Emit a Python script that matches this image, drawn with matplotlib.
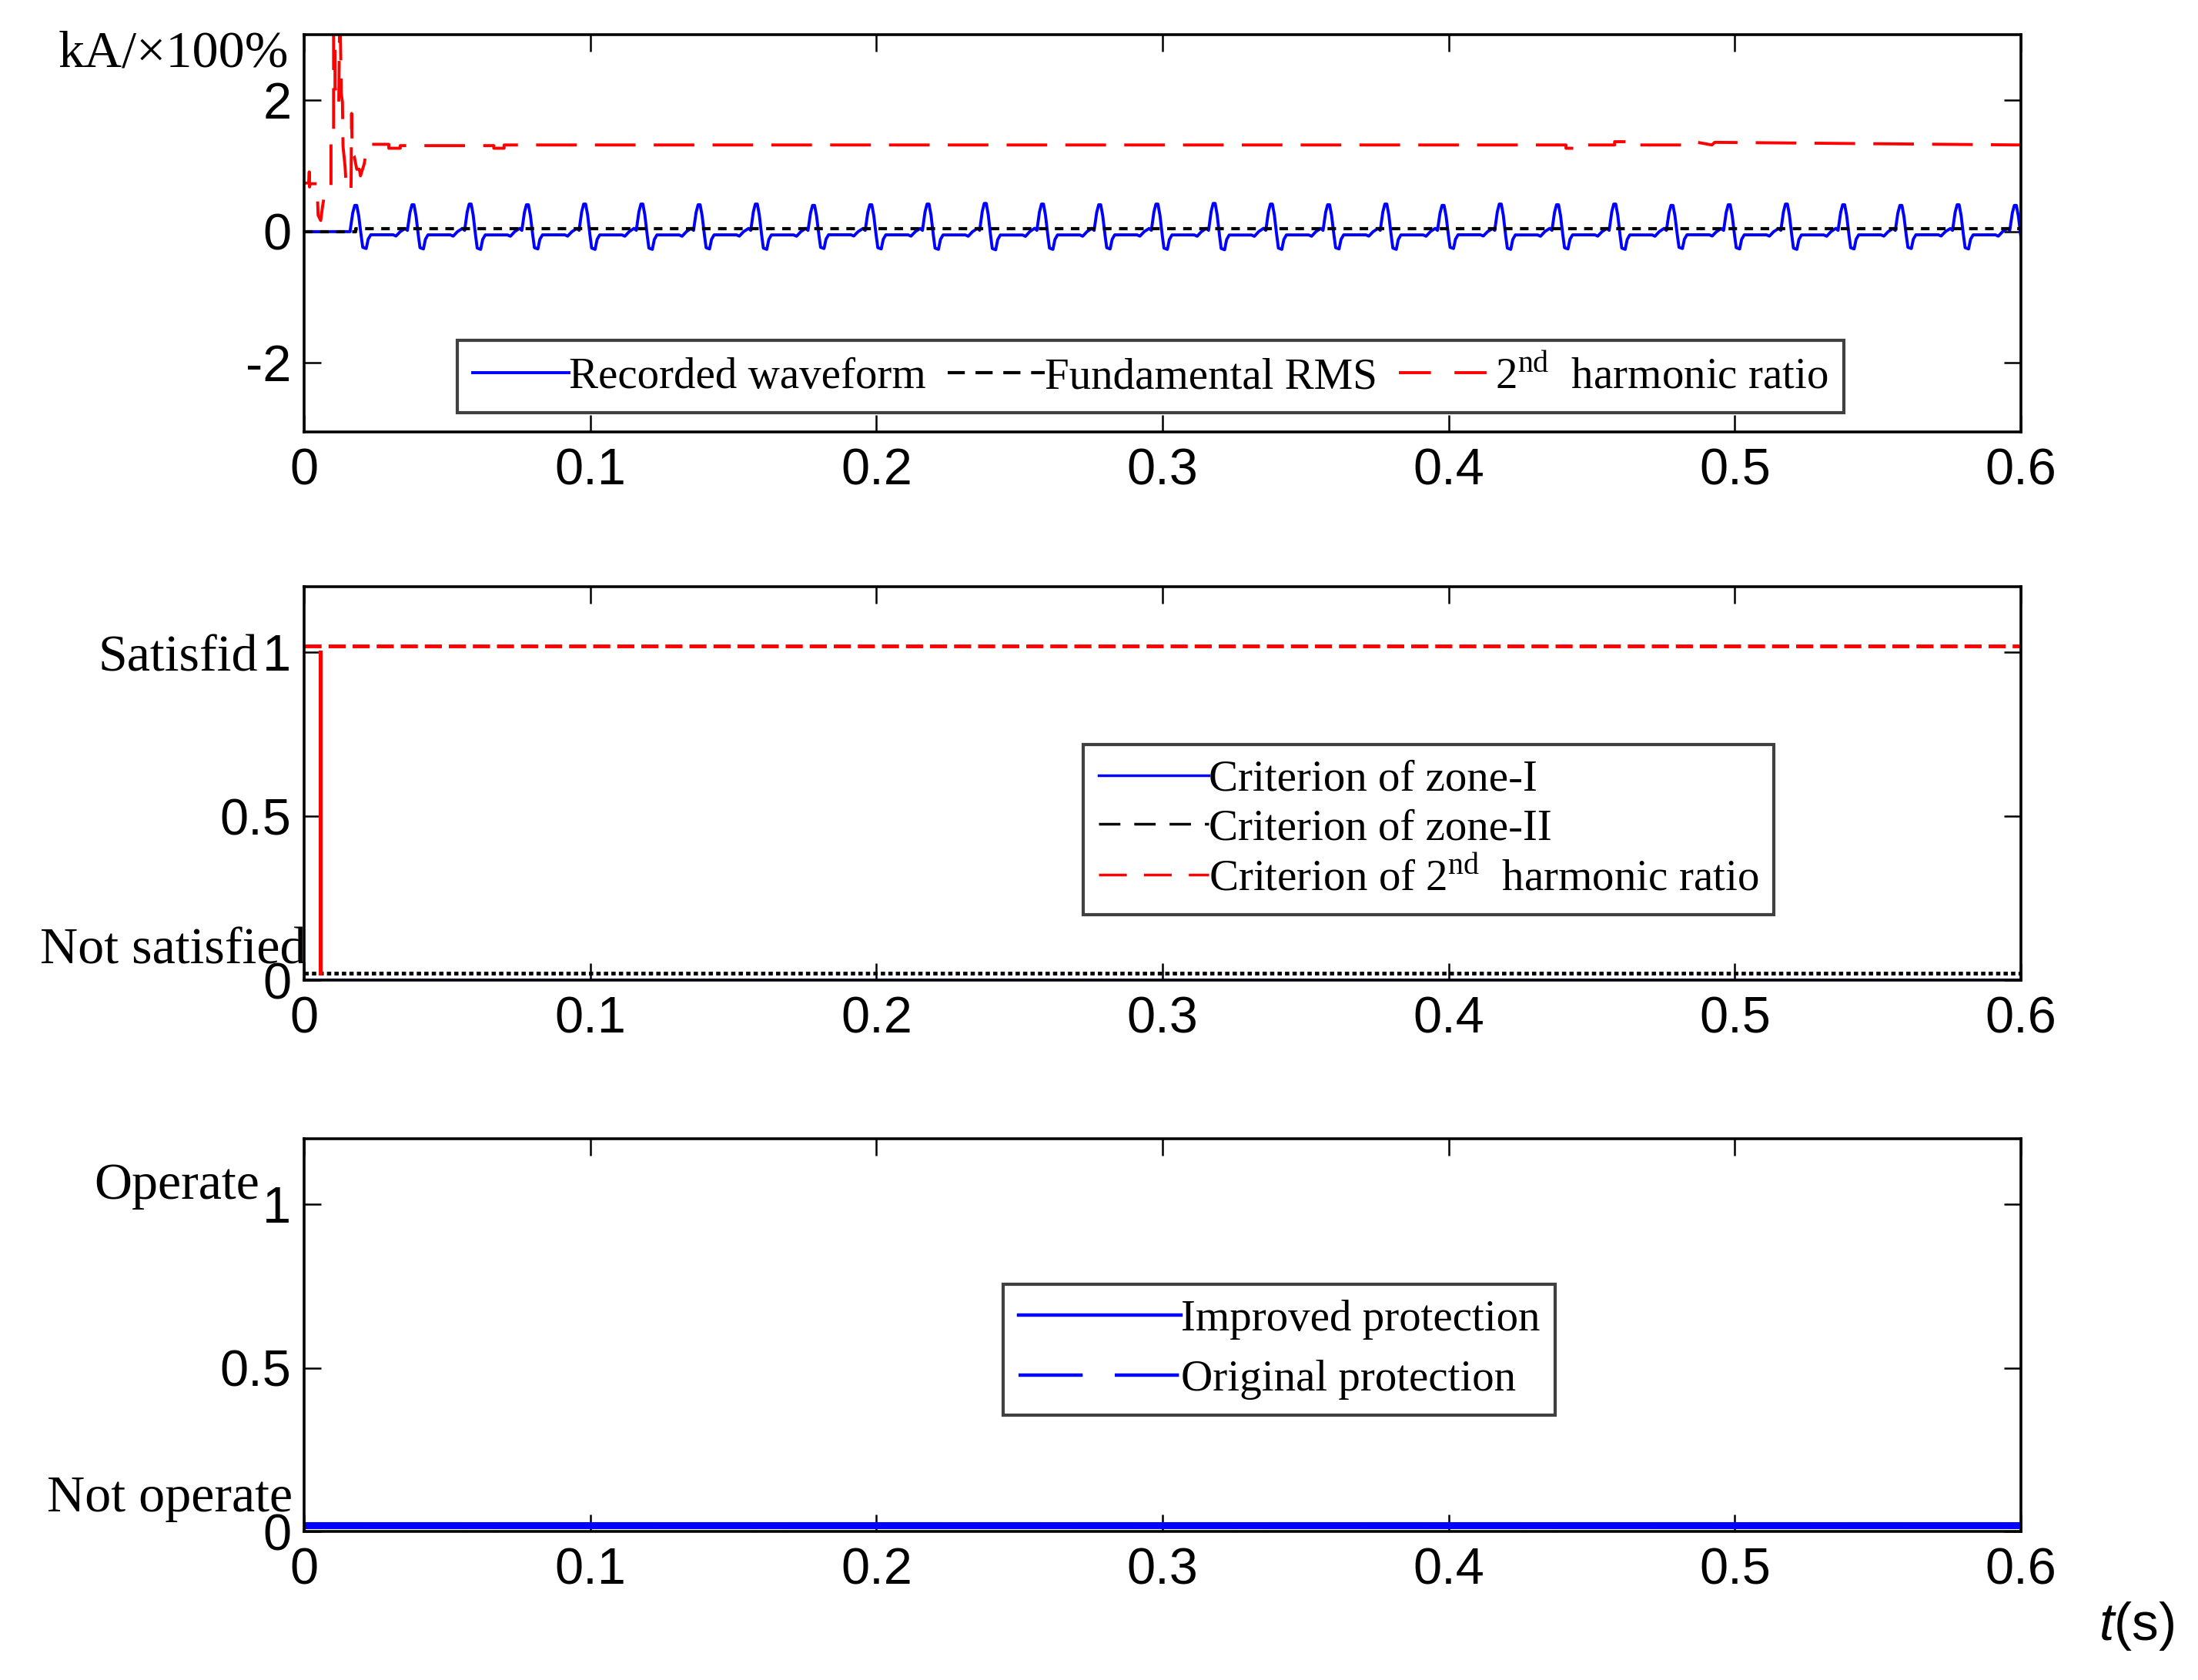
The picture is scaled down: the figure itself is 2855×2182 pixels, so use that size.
import matplotlib
matplotlib.use('Agg')
import matplotlib.pyplot as plt

plt.rcParams['font.family'] = ['Liberation Sans', 'DejaVu Sans']
plt.rcParams['axes.unicode_minus'] = False
plt.rcParams['lines.scale_dashes'] = False
plt.rcParams['mathtext.fontset'] = 'custom'
plt.rcParams['mathtext.rm'] = 'Liberation Serif'
plt.rcParams['mathtext.it'] = 'Liberation Sans:italic'

# x axis
xticks = [0, 0.1, 0.2, 0.3, 0.4, 0.5, 0.6]
xtick_labels = ['0', '0.1', '0.2', '0.3', '0.4', '0.5', '0.6']

# recorded waveform, one cycle (ms after the rise, kA)
cycle_ms = [0.0, 0.9, 1.6, 2.3, 3.0, 3.8, 4.4, 5.6, 6.3, 7.2, 15.0, 16.0, 17.5, 19.2]
cycle_kA = [0.02, 0.30, 0.42, 0.42, 0.25, -0.05, -0.25, -0.27, -0.12, -0.05, -0.05, -0.07, 0.0, 0.05]
first_rise = 0.0161
period = 0.02
cycle_peaks = [0.40, 0.41, 0.42, 0.41, 0.42, 0.42, 0.41, 0.42, 0.40, 0.41,
               0.42, 0.43, 0.42, 0.41, 0.42, 0.43, 0.42, 0.41, 0.42, 0.40,
               0.42, 0.41, 0.42, 0.40, 0.41, 0.42, 0.41, 0.40, 0.41, 0.40]

# fundamental RMS
rms_t = [0, 0.018, 0.018, 0.6]
rms_v = [0, 0, 0.05, 0.05]

# 2nd harmonic ratio (x100%)
h2_t = [0, 0.0016, 0.0018, 0.0019, 0.0021, 0.0045, 0.0049, 0.0058, 0.0065, 0.0072,
        0.0085, 0.0094, 0.0094, 0.0103, 0.0103, 0.0108, 0.0108, 0.0121, 0.0125, 0.0130,
        0.0134, 0.0136, 0.0143, 0.0148, 0.0164, 0.0166, 0.0168, 0.0175, 0.0184, 0.0193,
        0.0197, 0.0210, 0.0220, 0.0228, 0.0296, 0.0296, 0.0336, 0.0336, 0.0663, 0.0663,
        0.0699, 0.0699, 0.441, 0.441, 0.447, 0.447, 0.458, 0.458, 0.465, 0.465,
        0.486, 0.487, 0.492, 0.493, 0.6]
h2_v = [0.74, 0.74, 0.91, 0.68, 0.73, 0.73, 0.25, 0.17, 0.40, 0.58,
        0.70, 0.70, 1.48, 1.48, 3.5, 3.5, 2.2, 1.93, 3.5, 2.1,
        1.97, 1.30, 1.00, 0.64, 0.64, 1.80, 1.19, 1.15, 0.95, 0.95,
        0.85, 1.03, 1.29, 1.33, 1.33, 1.27, 1.27, 1.31, 1.31, 1.27,
        1.27, 1.32, 1.32, 1.27, 1.27, 1.32, 1.32, 1.37, 1.37, 1.32,
        1.32, 1.36, 1.32, 1.36, 1.32]

# criteria (0 = not satisfied, 1 = satisfied)
zone1_t = [0, 0.6]
zone1_v = [0.0, 0.0]
zone2_t = [0, 0.6]
zone2_v = [0.02, 0.02]
h2crit_t = [0, 0.6]
h2crit_v = [1.02, 1.02]
h2jump_t = [0.0057, 0.0057]
h2jump_v = [0.02, 1.0]

# protection action (0 = not operate, 1 = operate)
improved_t = [0, 0.6]
improved_v = [0.02, 0.02]
original_t = [0, 0.6]
original_v = [0.02, 0.02]

wave_t = [0, first_rise]
wave_v = [0, 0]
for k, pk in enumerate(cycle_peaks):
    for ms, v in zip(cycle_ms, cycle_kA):
        wave_t.append(first_rise + k * period + ms / 1000)
        wave_v.append(v * pk / max(cycle_kA))

W, H = 2855, 2182
fig = plt.figure(figsize=(W / 100, H / 100), dpi=100)
left, width = 395 / W, 2230 / W
ax1 = fig.add_axes([left, 1 - 561 / H, width, 516 / H])
ax2 = fig.add_axes([left, 1 - 1273 / H, width, 511 / H])
ax3 = fig.add_axes([left, 1 - 1989 / H, width, 510 / H])

serif = ['Liberation Serif', 'DejaVu Serif']
legend_kw = dict(prop={'family': serif, 'size': 41}, fancybox=False, framealpha=1,
                 edgecolor='0.25', borderpad=0.35, handletextpad=0.0, borderaxespad=0)

for ax in (ax1, ax2, ax3):
    ax.set_xlim(0, 0.6)
    ax.set_xticks(xticks)
    ax.set_xticklabels(xtick_labels)
    ax.tick_params(direction='in', length=16, width=1.8, labelsize=48, pad=12,
                   top=True, right=True)
    ax.tick_params(axis='x', pad=15)
    for sp in ax.spines.values():
        sp.set_linewidth(2.6)

# top panel
ax1.plot(wave_t, wave_v, color='#0000ff', lw=2.8, label='Recorded waveform')
ax1.plot(rms_t, rms_v, color='black', lw=3, dashes=(8, 7), label='Fundamental RMS')
ax1.plot(h2_t, h2_v, color='#ff0000', lw=2.8, dashes=(38, 17),
         label='2$^{\\rm nd}$  harmonic ratio')
ax1.set_ylim(-3.05, 3.0)
ax1.set_yticks([-2, 0, 2])
ax1.set_yticklabels(['-2', '0', '2'])
leg1 = ax1.legend(loc='center', bbox_to_anchor=(0.493, 0.139), ncol=3,
                  handlelength=2.2, columnspacing=0.5, **legend_kw)
leg1.get_frame().set_linewidth(3)
for h, d in zip(leg1.get_lines(), [None, (16, 10), (30, 22)]):
    if d is not None:
        h.set_dashes(d)

# middle panel
ax2.plot(zone1_t, zone1_v, color='#0000ff', lw=3, label='Criterion of zone-I')
ax2.plot(zone2_t, zone2_v, color='black', lw=3.5, dashes=(4, 3),
         label='Criterion of zone-II')
ax2.plot(h2crit_t, h2crit_v, color='#ff0000', lw=3.5, dashes=(16, 6.5),
         label='Criterion of 2$^{\\rm nd}$  harmonic ratio')
ax2.plot(h2jump_t, h2jump_v, color='#ff0000', lw=3.6)
ax2.set_ylim(0, 1.2)
ax2.set_yticks([0, 0.5, 1])
ax2.set_yticklabels(['0', '0.5', '1'])
leg2 = ax2.legend(loc='center', bbox_to_anchor=(0.655, 0.383), handlelength=2.5,
                  labelspacing=0.2, **legend_kw)
leg2.get_frame().set_linewidth(3)
for h, d in zip(leg2.get_lines(), [None, (20, 13), (26, 16)]):
    h.set_linewidth(2.5)
    if d is not None:
        h.set_dashes(d)

# bottom panel
ax3.plot(original_t, original_v, color='#0000ff', lw=6.5, dashes=(60, 30),
         label='Original protection')
ax3.plot(improved_t, improved_v, color='#0000ff', lw=6.5, label='Improved protection')
ax3.set_ylim(0, 1.2)
ax3.set_yticks([0, 0.5, 1])
ax3.set_yticklabels(['0', '0.5', '1'])
h, l = ax3.get_legend_handles_labels()
leg3 = ax3.legend(h[::-1], l[::-1], loc='center', bbox_to_anchor=(0.568, 0.463),
                  handlelength=3.7, labelspacing=0.45, **legend_kw)
leg3.get_frame().set_linewidth(3)
for line in leg3.get_lines():
    line.set_linewidth(3.2)

# side labels
side = dict(family=serif, fontsize=49, ha='right', va='baseline')
fig.text(375 / W, 1 - 87 / H, 'kA/\u00d7100%', **side)
fig.text(335 / W, 1 - 872 / H, 'Satisfid', **side)
fig.text(398 / W, 1 - 1252 / H, 'Not satisfied', **side)
fig.text(337 / W, 1 - 1557 / H, 'Operate', **side)
fig.text(380 / W, 1 - 1963 / H, 'Not operate', **side)
fig.text(2775 / W, 1 - 2112 / H, '$t$(s)', fontsize=50, ha='center', va='center')

fig.savefig('out.png', dpi=100)
